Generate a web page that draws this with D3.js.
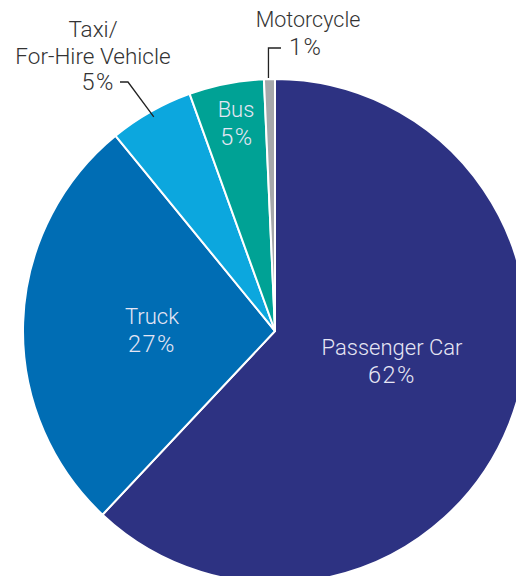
<!DOCTYPE html>
<html><head><meta charset="utf-8">
<script src="https://cdn.jsdelivr.net/npm/d3@7/dist/d3.min.js"></script>
<style>body{margin:0;background:#fff;overflow:hidden}svg{display:block}</style>
</head><body><svg id="c" width="516" height="576"></svg>
<script>
const categories = ["Passenger Car","Truck","Taxi/For-Hire Vehicle","Bus","Motorcycle"];
const values = [62.0, 27.1, 5.4, 4.8, 0.7];
const valueLabels = ["62%","27%","5%","5%","1%"];
const colors = ["#2d3282","#006db4","#0ca7de","#00a295","#a6a8ab"];

const svg = d3.select("#c");
const cx = 275, cy = 331, R = 252;
const g = svg.append("g").attr("transform", `translate(${cx},${cy})`);
const data = categories.map((c,i)=>({c, v:values[i], l:valueLabels[i], col:colors[i]}));
const pie = d3.pie().value(d=>d.v).sort(null);
const arcs = pie(data);
const arc = d3.arc().innerRadius(0).outerRadius(R);
g.selectAll("path").data(arcs).join("path")
  .attr("d", arc).attr("fill", d=>d.data.col)
  .attr("stroke","#fff").attr("stroke-width",2).attr("stroke-linejoin","round");

const font = "Roboto, 'Open Sans', sans-serif";
function label(lines, x, y, fill, anchor, size, gap){
  const t = svg.append("text").attr("y",y).attr("text-anchor",anchor||"middle")
    .attr("fill",fill).attr("font-family",font).attr("font-size",size||22).attr("font-weight",300);
  lines.forEach((s,i)=>{
    const xx = Array.isArray(x) ? x[i] : x;
    const ts = t.append("tspan").attr("x",xx).attr("dy", i?(gap||28):0).text(s);
    if (/%$/.test(s)) ts.attr("letter-spacing", 1.5).attr("font-size", 23.5);
  });
}
const inFill = "#e6e6f4";
label(["Passenger Car", valueLabels[0]], [392, 392], 355, inFill);
label(["Truck", valueLabels[1]], [152, 152], 324, inFill);
label(["Bus", valueLabels[3]], [236, 237], 117, inFill);
label(["Taxi/","For-Hire Vehicle"], 93, 37, "#333", "middle", 22.5, 26.5);
label([valueLabels[2]], 115, 90, "#333", "end");
label(["Motorcycle"], 308, 27, "#333", "middle", 21.5);
label([valueLabels[4]], 289, 55, "#333", "start");

// leaders
const line = d3.line();
const ang2 = (arcs[2].startAngle+arcs[2].endAngle)/2;
const ang4 = (arcs[4].startAngle+arcs[4].endAngle)/2;
const ex2 = cx + Math.sin(ang2)*(R-6), ey2 = cy - Math.cos(ang2)*(R-6);
svg.append("path").attr("d", line([[120,82],[128,82],[ex2,ey2]]))
  .attr("fill","none").attr("stroke","#222").attr("stroke-width",1.3);
const ex4 = cx + Math.sin(ang4)*R, ey4 = cy - Math.cos(ang4)*R;
svg.append("path").attr("d", line([[281,48],[ex4-1,48],[ex4-1,ey4-1]]))
  .attr("fill","none").attr("stroke","#222").attr("stroke-width",1.3);
</script></body></html>
